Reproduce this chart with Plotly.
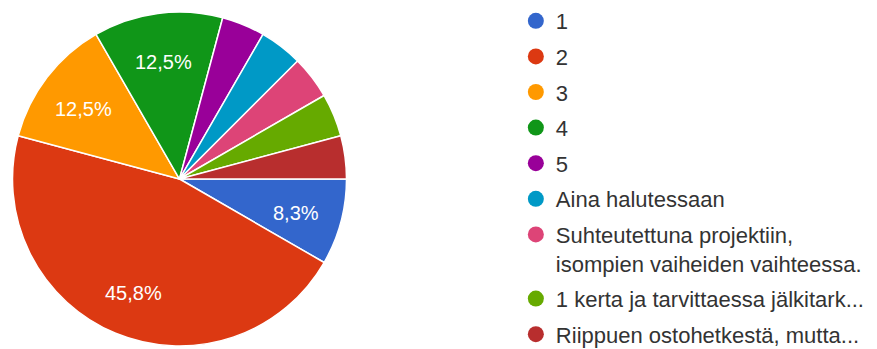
import math
import plotly.graph_objects as go

# Survey answers and how many respondents chose each
labels = [
    "1",
    "2",
    "3",
    "4",
    "5",
    "Aina halutessaan",
    "Suhteutettuna projektiin,<br>isompien vaiheiden vaihteessa.",
    "1 kerta ja tarvittaessa jälkitark...",
    "Riippuen ostohetkestä, mutta...",
]
counts = [2, 11, 3, 3, 1, 1, 1, 1, 1]
colors = [
    "#3366CC", "#DC3912", "#FF9900", "#109618", "#990099",
    "#0099C6", "#DD4477", "#66AA00", "#B82E2E",
]

W, H = 877, 349
FONT = "Liberation Sans, Arial, sans-serif"

# Pie placement (pixels)
pie_x0, pie_x1 = 12, 347
pie_y0, pie_y1 = 3, 337          # measured from the bottom
cx_px = (pie_x0 + pie_x1) / 2
cy_px = (pie_y0 + pie_y1) / 2
radius_px = (pie_x1 - pie_x0) / 2
label_r = 0.72                   # radial position of the percent labels

total = sum(counts)

fig = go.Figure()
fig.add_trace(go.Pie(
    labels=labels,
    values=counts,
    textinfo="none",
    marker=dict(colors=colors, line=dict(color="white", width=1.5)),
    sort=False,
    direction="clockwise",
    rotation=90,
    showlegend=False,
    domain=dict(x=[pie_x0 / W, pie_x1 / W], y=[pie_y0 / H, pie_y1 / H]),
    hoverinfo="label+percent",
))

# Percent labels (Finnish decimal comma); slices under 5 % stay unlabeled
start = 0.0  # degrees, 3 o'clock, going clockwise
for c in counts:
    frac = c / total
    mid = math.radians(start - 180 * frac)
    start -= 360 * frac
    pct = 100 * frac
    if pct < 5:
        continue
    fig.add_annotation(
        x=(cx_px + label_r * radius_px * math.cos(mid)) / W,
        y=(cy_px + label_r * radius_px * math.sin(mid) - 3) / H,
        xref="paper", yref="paper",
        text=f"{pct:.1f}".replace(".", ",") + "%",
        showarrow=False,
        font=dict(family=FONT, size=20, color="white"),
        xanchor="center", yanchor="middle",
    )

# Legend entries drawn as round markers
for i, (lab, col) in enumerate(zip(labels, colors)):
    fig.add_trace(go.Scatter(
        x=[None], y=[None],
        mode="markers",
        marker=dict(color=col, size=20, symbol="circle"),
        name=lab,
        legendgroup=f"g{i}",
        showlegend=True,
        hoverinfo="skip",
    ))

fig.update_layout(
    width=W,
    height=H,
    margin=dict(l=0, r=0, t=0, b=0),
    paper_bgcolor="white",
    plot_bgcolor="white",
    xaxis=dict(visible=False),
    yaxis=dict(visible=False),
    legend=dict(
        x=0.5882, y=0.981,
        xanchor="left", yanchor="top",
        font=dict(family=FONT, size=22, color="#333333"),
        tracegroupgap=4,
        itemsizing="trace",
        valign="top",
        maxheight=600,
        bgcolor="rgba(0,0,0,0)",
    ),
)

fig.write_html("out.html")
